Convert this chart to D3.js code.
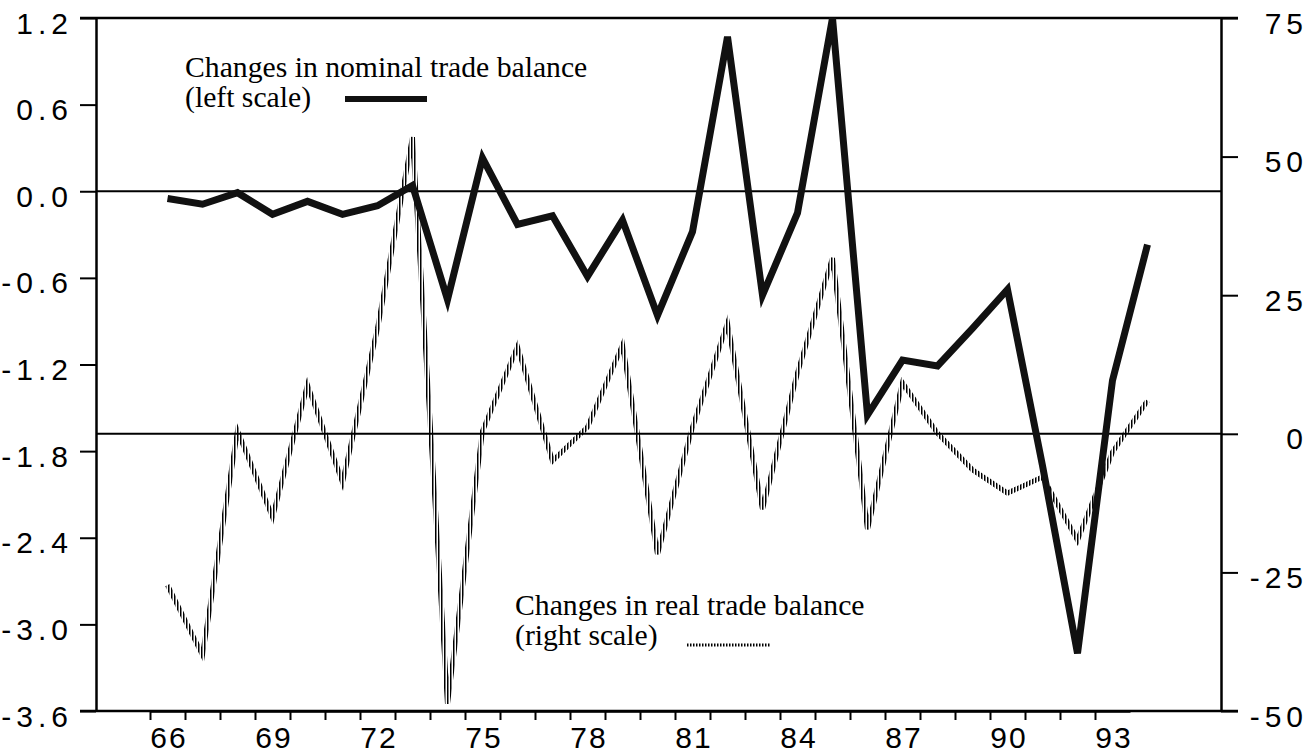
<!DOCTYPE html>
<meta charset="utf-8">
<script src="https://d3js.org/d3.v7.min.js"></script>
<style>
  body { margin: 0; background: #fff; }
  .tick text { font-family: "Liberation Sans", Arial, sans-serif; font-size: 30px; fill: #000; }
  .yax .tick text { letter-spacing: 5px; }
  .xax .tick text { letter-spacing: 2px; }
  .legend { font-family: "Liberation Serif", "Times New Roman", serif; font-size: 29.7px; fill: #000; }
</style>
<div id="chart"></div>
<script>
  // data
  var years = [66, 67, 68, 69, 70, 71, 72, 73, 74, 75, 76, 77, 78, 79, 80,
               81, 82, 83, 84, 85, 86, 87, 88, 89, 90, 91, 92, 93, 94];
  var nominal = [-0.05, -0.09, -0.01, -0.16, -0.07, -0.16, -0.10, 0.04, -0.75, 0.23,
                 -0.23, -0.17, -0.59, -0.20, -0.86, -0.28, 1.07, -0.72, -0.15, 1.2,
                 -1.55, -1.17, -1.21, -0.95, -0.68, -1.9, -3.2, -1.31, -0.37];
  var real = [-27.3, -39.9, 0.5, -15, 8.8, -8.7, 19, 53.5, -48.7, 0.5,
              15.7, -4.9, 1.2, 16, -21.7, 1.2, 19.9, -13.6, 11, 31.7,
              -17.2, 9.2, 0.1, -6.5, -10.7, -7.8, -19.2, -3.3, 6];
  var leftTicks = [-3.6, -3.0, -2.4, -1.8, -1.2, -0.6, 0.0, 0.6, 1.2];
  var rightTicks = [-50, -25, 0, 25, 50, 75];
  var yearLabels = [66, 69, 72, 75, 78, 81, 84, 87, 90, 93];

  var width = 1310, height = 756;
  var plotLeft = 96, plotRight = 1221, plotTop = 18, plotBottom = 711;

  var svg = d3.select("#chart").append("svg")
    .attr("width", width)
    .attr("height", height);

  // hatch used for the real trade balance line
  svg.append("defs").append("pattern")
    .attr("id", "hatch")
    .attr("patternUnits", "userSpaceOnUse")
    .attr("width", 3)
    .attr("height", 12)
    .append("rect")
      .attr("width", 1.5)
      .attr("height", 12)
      .attr("fill", "#000");

  var x = d3.scaleLinear().domain([65.5, 93.5]).range([150, 1130]);
  var yL = d3.scaleLinear().domain([-3.6, 1.2]).range([plotBottom, plotTop]);
  var yR = d3.scaleLinear().domain([-50, 75]).range([plotBottom, plotTop]);

  // frame lines (top and bottom run over the tick marks)
  svg.append("line")
    .attr("x1", plotLeft - 16).attr("x2", plotRight + 17)
    .attr("y1", plotTop).attr("y2", plotTop)
    .attr("stroke", "#000").attr("stroke-width", 2.5);
  svg.append("line")
    .attr("x1", plotLeft - 16).attr("x2", plotRight + 17)
    .attr("y1", plotBottom).attr("y2", plotBottom)
    .attr("stroke", "#000").attr("stroke-width", 2.5);

  // zero lines for both scales
  svg.append("line")
    .attr("x1", plotLeft).attr("x2", plotRight)
    .attr("y1", yL(0)).attr("y2", yL(0))
    .attr("stroke", "#000").attr("stroke-width", 2);
  svg.append("line")
    .attr("x1", plotLeft).attr("x2", plotRight)
    .attr("y1", yR(0)).attr("y2", yR(0))
    .attr("stroke", "#000").attr("stroke-width", 2);

  // left axis
  var gl = svg.append("g")
    .attr("class", "yax")
    .attr("transform", "translate(" + plotLeft + ",0)")
    .call(d3.axisLeft(yL).tickValues(leftTicks).tickSize(16).tickSizeOuter(0)
      .tickPadding(7).tickFormat(d => d.toFixed(1)));
  gl.selectAll("text").attr("dy", "0.5em");

  // right axis
  var gr = svg.append("g")
    .attr("class", "yax")
    .attr("transform", "translate(" + plotRight + ",0)")
    .call(d3.axisRight(yR).tickValues(rightTicks).tickSize(17).tickSizeOuter(0)
      .tickFormat(d => String(d)));
  gr.selectAll("text").attr("text-anchor", "end").attr("x", 87).attr("dy", "0.5em");

  // bottom axis: ticks between years, labels under every third year
  var boundaries = years.slice(0, 28).map(d => d - 0.5);
  svg.append("g")
    .attr("transform", "translate(0," + plotBottom + ")")
    .call(d3.axisBottom(x).tickValues(boundaries).tickSize(9).tickSizeOuter(0).tickFormat(""));
  var gb = svg.append("g")
    .attr("class", "xax")
    .attr("transform", "translate(0," + plotBottom + ")")
    .call(d3.axisBottom(x).tickValues(yearLabels).tickSize(0).tickPadding(16));
  gb.select(".domain").remove();
  gb.selectAll("text").attr("dx", 1);

  svg.selectAll(".domain").attr("stroke-width", 2.5);
  svg.selectAll(".tick line").attr("stroke-width", 2);

  // real trade balance (right scale)
  var realLine = d3.line()
    .x((d, i) => x(years[i]))
    .y(d => yR(d));
  svg.append("path")
    .datum(real)
    .attr("fill", "none")
    .attr("stroke", "url(#hatch)")
    .attr("stroke-width", 5)
    .attr("d", realLine);

  // nominal trade balance (left scale)
  var nomLine = d3.line()
    .x((d, i) => x(years[i]))
    .y(d => yL(d));
  svg.append("path")
    .datum(nominal)
    .attr("fill", "none")
    .attr("stroke", "#111")
    .attr("stroke-width", 7)
    .attr("d", nomLine);

  // legends
  var leg1 = svg.append("g");
  leg1.append("text").attr("class", "legend").attr("x", 185).attr("y", 77)
    .text("Changes in nominal trade balance");
  leg1.append("text").attr("class", "legend").attr("x", 185).attr("y", 107)
    .text("(left scale)");
  leg1.append("line")
    .attr("x1", 345).attr("x2", 427).attr("y1", 99).attr("y2", 99)
    .attr("stroke", "#111").attr("stroke-width", 6);

  var leg2 = svg.append("g");
  leg2.append("text").attr("class", "legend").attr("x", 515).attr("y", 615)
    .text("Changes in real trade balance");
  leg2.append("text").attr("class", "legend").attr("x", 515).attr("y", 645)
    .text("(right scale)");
  leg2.append("line")
    .attr("x1", 687).attr("x2", 770).attr("y1", 645).attr("y2", 645)
    .attr("stroke", "url(#hatch)").attr("stroke-width", 3);
</script>
